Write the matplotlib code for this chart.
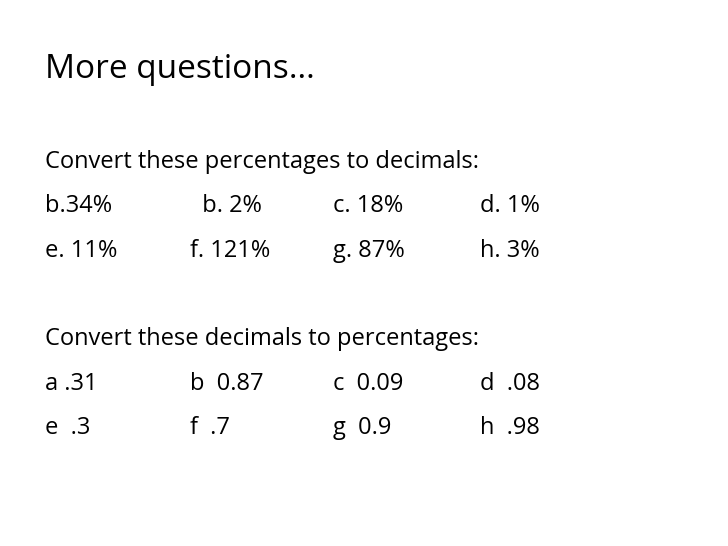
import matplotlib
matplotlib.use("Agg")
import matplotlib.pyplot as plt

title = "More questions…"
heading1 = "Convert these percentages to decimals:"
rows1 = [["b.34%", "  b. 2%", "c. 18%", "d. 1%"],
         ["e. 11%", "f. 121%", "g. 87%", "h. 3%"]]
heading2 = "Convert these decimals to percentages:"
rows2 = [["a .31", "b  0.87", "c  0.09", "d  .08"],
         ["e  .3", "f  .7", "g  0.9", "h  .98"]]

fig = plt.figure(figsize=(7.28, 5.46), dpi=100)
fig.patch.set_facecolor("white")
W, H = 728, 546
fam = ["Open Sans", "DejaVu Sans"]

def t(x, y, s, size):
    fig.text(x / W, 1 - y / H, s, fontsize=size, family=fam, va="center", ha="left", color="black")

t(45, 70, title, 24)
cols = [45, 190, 333, 480]
ys = [162, 206, 251]
t(45, ys[0], heading1, 17)
for r, row in zip(rows1, ys[1:]):
    for x, s in zip(cols, r):
        t(x, row, s, 17)
ys2 = [339, 384, 428]
t(45, ys2[0], heading2, 17)
for r, row in zip(rows2, ys2[1:]):
    for x, s in zip(cols, r):
        t(x, row, s, 17)
fig.savefig("out.png", dpi=100)
